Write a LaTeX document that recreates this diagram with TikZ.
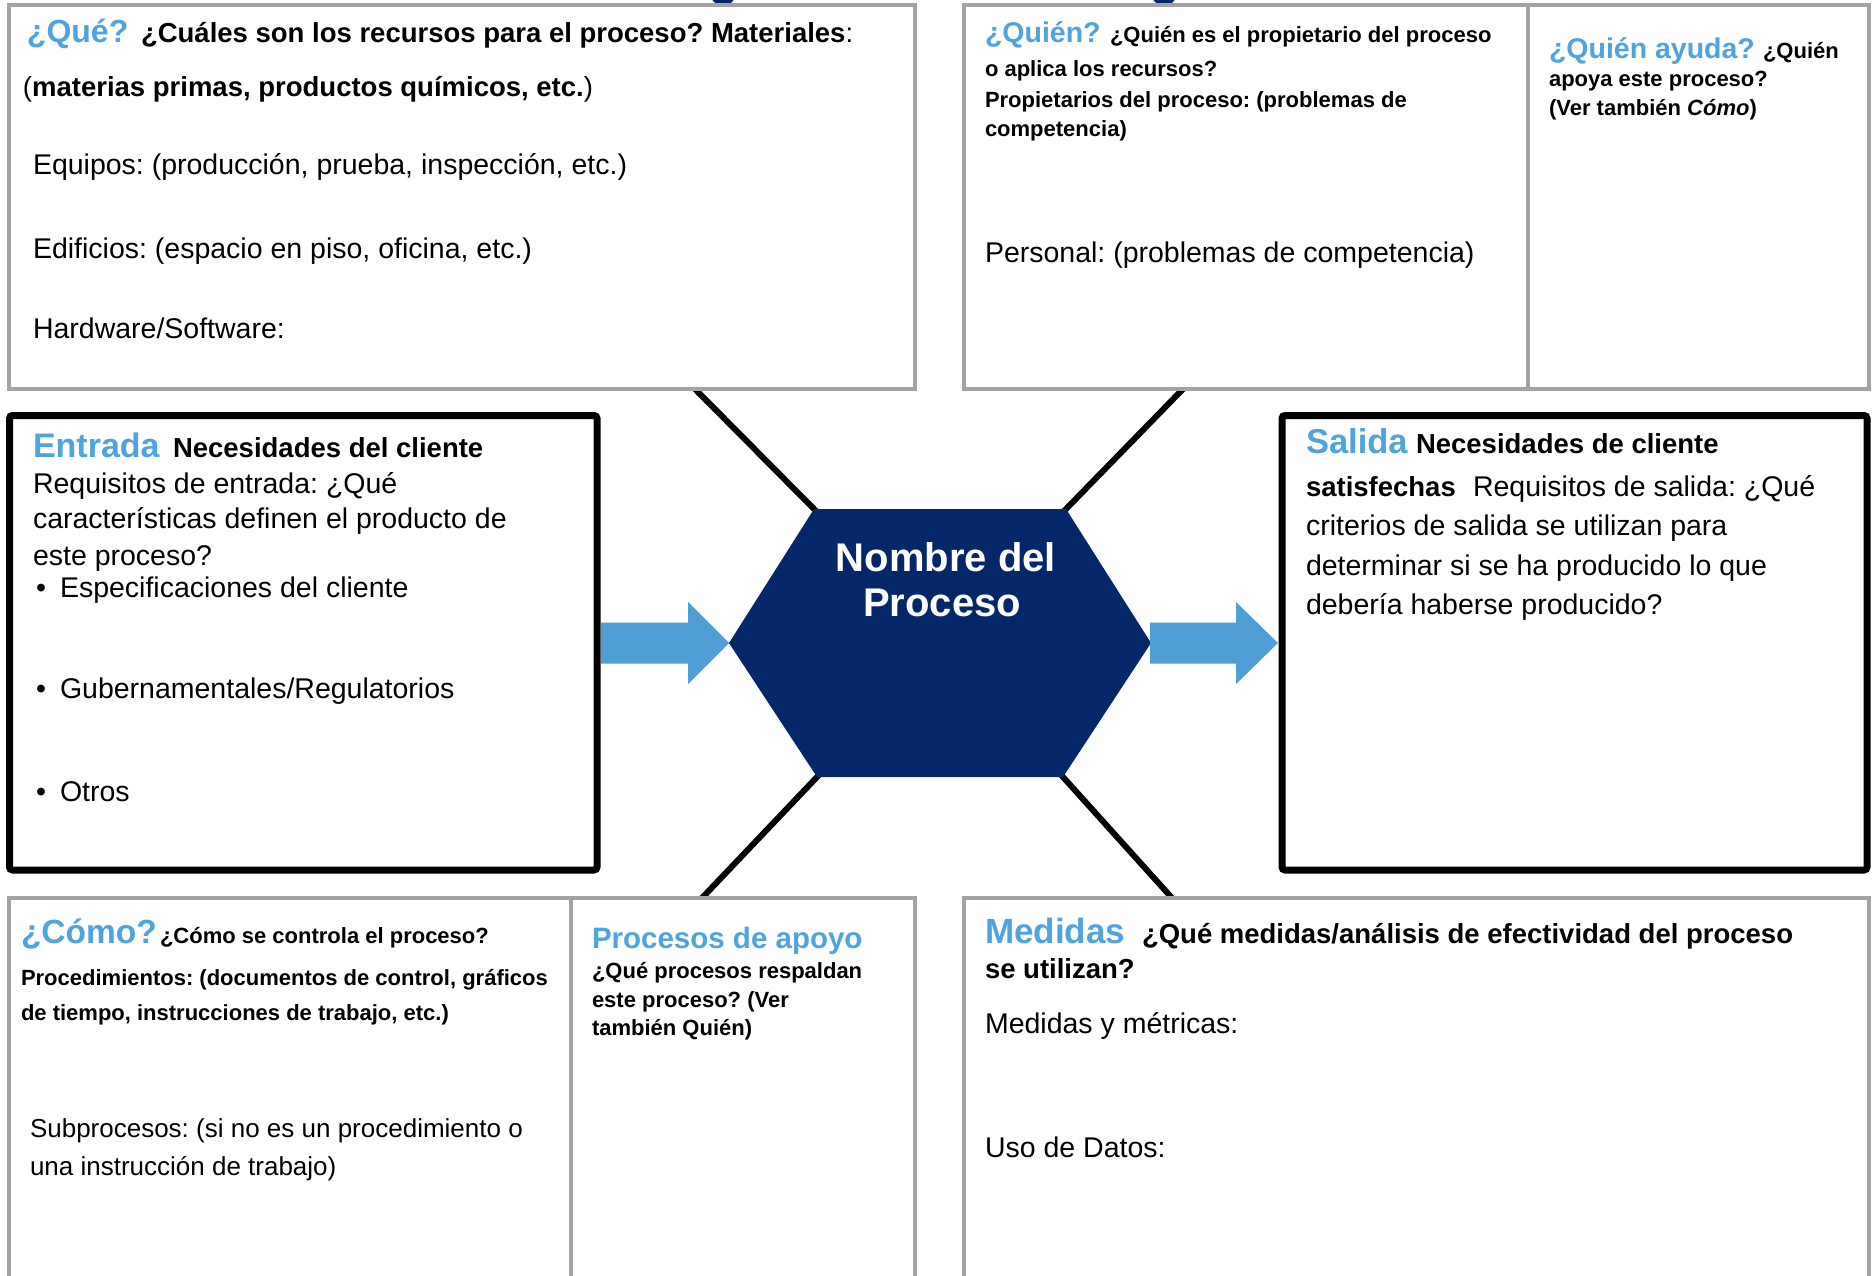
\documentclass[tikz,border=0pt]{standalone}
\usepackage{fontspec}
\setmainfont{Liberation Sans}
\usetikzlibrary{calc}
\definecolor{headblue}{RGB}{79,163,223}
\definecolor{arrowblue}{RGB}{79,158,214}
\definecolor{navyhex}{RGB}{3,39,104}
\definecolor{boxgray}{RGB}{163,163,163}
\newcommand\setfs[1]{\fontsize{#1}{#1}\selectfont}
\frenchspacing
\tikzset{
  tlbl/.style={anchor=base west, inner sep=0pt, outer sep=0pt, text=black},
  thead/.style={tlbl, text=headblue, font=\bfseries\setfs{#1}},
  tbold/.style={tlbl, font=\bfseries\setfs{#1}},
  treg/.style={tlbl, font=\setfs{#1}},
  graybox/.style={draw=boxgray, line width=4pt},
  blackbox/.style={draw=black, line width=7pt, rounded corners=3pt},
  spoke/.style={draw=black, line width=6pt},
  bigarrow/.style={fill=arrowblue},
}
\begin{document}
\begin{tikzpicture}[x=1pt,y=-1pt]
\useasboundingbox (0,0) rectangle (1873,1276);
\clip (0,0) rectangle (1873,1276);
\fill[white] (0,0) rectangle (1873,1276);

% cut-off title descenders
\fill[navyhex] (723,-2) ellipse [x radius=11pt, y radius=7pt];
\fill[navyhex] (1164,-2) ellipse [x radius=11pt, y radius=7pt];

% hexagon corners and spoke ends
\coordinate (hL) at (729,643);
\coordinate (hTL) at (814,509);
\coordinate (hTR) at (1066,509);
\coordinate (hR) at (1151,643);
\coordinate (hBR) at (1063,777);
\coordinate (hBL) at (817,777);
\coordinate (qEnd) at (695,389);
\coordinate (wEnd) at (1183,389);
\coordinate (cEnd) at (702,898);
\coordinate (mEnd) at (1172,898);
\coordinate (salL) at (1278,643);
\coordinate (entR) at (601,643);

% spokes
\draw[spoke] ($(hTL)!-0.05!(qEnd)$) -- ($(hTL)!1.1!(qEnd)$);
\draw[spoke] ($(hTR)!-0.05!(wEnd)$) -- ($(hTR)!1.1!(wEnd)$);
\draw[spoke] ($(hBL)!-0.05!(cEnd)$) -- ($(hBL)!1.1!(cEnd)$);
\draw[spoke] ($(hBR)!-0.05!(mEnd)$) -- ($(hBR)!1.1!(mEnd)$);

% hexagon
\fill[navyhex] (hL) -- (hTL) -- (hTR) -- (hR) -- (hBR) -- (hBL) -- cycle;

% boxes
\draw[graybox, fill=white] (9,5) rectangle (915,389);
\draw[graybox, fill=white] (964,5) rectangle (1869,389);
\draw[graybox] (1528,5) -- (1528,389);
\draw[blackbox, fill=white] (9.5,415.5) rectangle (597,870);
\draw[blackbox, fill=white] (1282,415.5) rectangle (1867,870);
\draw[graybox, fill=white] (9,898) rectangle (915,1300);
\draw[graybox] (571,898) -- (571,1300);
\draw[graybox, fill=white] (964,898) rectangle (1869,1300);

% arrows
\fill[bigarrow] (entR) ++(0,-20.5) -- (688,622.5) -- (688,602) -- (hL) -- (688,684) -- (688,663.5) -- ($(entR)+(0,20.5)$) -- cycle;
\fill[bigarrow] (hR) ++(-1,-20.5) -- (1236,622.5) -- (1236,602) -- (salL) -- (1236,684) -- (1236,663.5) -- ($(hR)+(-1,20.5)$) -- cycle;

% hexagon label
\node[anchor=base, inner sep=0pt, text=white, font=\bfseries\setfs{40}] (hex1) at (946,571) {Nombre del};
\node[anchor=base, inner sep=0pt, text=white, font=\bfseries\setfs{40}] (hex2) at (942,616) {Proceso};

% top-left: Que
\node[thead=32] (queH) at (27,43) {¿Qué?};
\node[tbold=27.5] (queQ) at (141,43) {¿Cuáles son los recursos para el proceso? Materiales{\mdseries:}};
\node[tbold=27.5] (queM) at (23,97) {{\mdseries(}materias primas, productos químicos, etc.{\mdseries)}};
\node[treg=28.5] (equipos) at (33,175) {Equipos: (producción, prueba, inspección, etc.)};
\node[treg=28.5] (edif) at (33,258) {Edificios: (espacio en piso, oficina, etc.)};
\node[treg=28.5] (hw) at (33,338) {Hardware/Software:};

% top-right: Quien
\node[thead=28.5] (quienH) at (985,43) {¿Quién?};
\node[tbold=22] (quienQ) at (1110,43) {¿Quién es el propietario del proceso};
\node[tbold=22] (quienQ2) at (985,77) {o aplica los recursos?};
\node[tbold=22] (prop1) at (985,108) {Propietarios del proceso: (problemas de};
\node[tbold=22] (prop2) at (985,137) {competencia)};
\node[treg=28.5] (personal) at (985,262) {Personal: (problemas de competencia)};
\node[thead=28.5] (ayudaH) at (1549,58.5) {¿Quién ayuda?};
\node[tbold=22] (ayudaQ) at (1763,58.5) {¿Quién};
\node[tbold=22] (ayuda2) at (1549,87) {apoya este proceso?};
\node[tbold=22] (ayuda3) at (1549,116) {(Ver también \textit{Cómo})};

% Entrada
\node[thead=34] (entH) at (33,457) {Entrada};
\node[tbold=27.5] (entQ) at (173,457) {Necesidades del cliente};
\node[treg=28.5] (ent1) at (33,493) {Requisitos de entrada: ¿Qué};
\node[treg=28.5] (ent2) at (33,528) {características definen el producto de};
\node[treg=28.5] (ent3) at (33,565) {este proceso?};
\node[treg=28.5] (bul1) at (36,597) {•};
\node[treg=28.5] (ent4) at (60,597) {Especificaciones del cliente};
\node[treg=28.5] (bul2) at (36,698) {•};
\node[treg=28.5] (ent5) at (60,698) {Gubernamentales/Regulatorios};
\node[treg=28.5] (bul3) at (36,801) {•};
\node[treg=28.5] (ent6) at (60,801) {Otros};

% Salida
\node[thead=34.5] (salH) at (1306,453) {Salida};
\node[tbold=27.5] (salQ) at (1416,453) {Necesidades de cliente};
\node[tbold=27.5] (sal1) at (1306,496) {satisfechas};
\node[treg=28.5] (sal1b) at (1473,496) {Requisitos de salida: ¿Qué};
\node[treg=28.5] (sal2) at (1306,535) {criterios de salida se utilizan para};
\node[treg=28.5] (sal3) at (1306,575) {determinar si se ha producido lo que};
\node[treg=28.5] (sal4) at (1306,614) {debería haberse producido?};

% bottom-left: Como
\node[thead=33.5] (comoH) at (21,943) {¿Cómo?};
\node[tbold=22] (comoQ) at (160,943) {¿Cómo se controla el proceso?};
\node[tbold=22] (proc1) at (21,985) {Procedimientos: (documentos de control, gráficos};
\node[tbold=22] (proc2) at (21,1020) {de tiempo, instrucciones de trabajo, etc.)};
\node[treg=26] (sub1) at (30,1137) {Subprocesos: (si no es un procedimiento o};
\node[treg=26] (sub2) at (30,1175) {una instrucción de trabajo)};
\node[thead=29.5] (apoyoH) at (592,948) {Procesos de apoyo};
\node[tbold=22] (apoyo1) at (592,978) {¿Qué procesos respaldan};
\node[tbold=22] (apoyo2) at (592,1007) {este proceso? (Ver};
\node[tbold=22] (apoyo3) at (592,1035) {también Quién)};

% bottom-right: Medidas
\node[thead=35] (medH) at (985,943) {Medidas};
\node[tbold=27.5] (medQ) at (1142,943) {¿Qué medidas/análisis de efectividad del proceso};
\node[tbold=27.5] (medQ2) at (985,978) {se utilizan?};
\node[treg=28.5] (med1) at (985,1033) {Medidas y métricas:};
\node[treg=28.5] (med2) at (985,1157) {Uso de Datos:};
\end{tikzpicture}
\end{document}
